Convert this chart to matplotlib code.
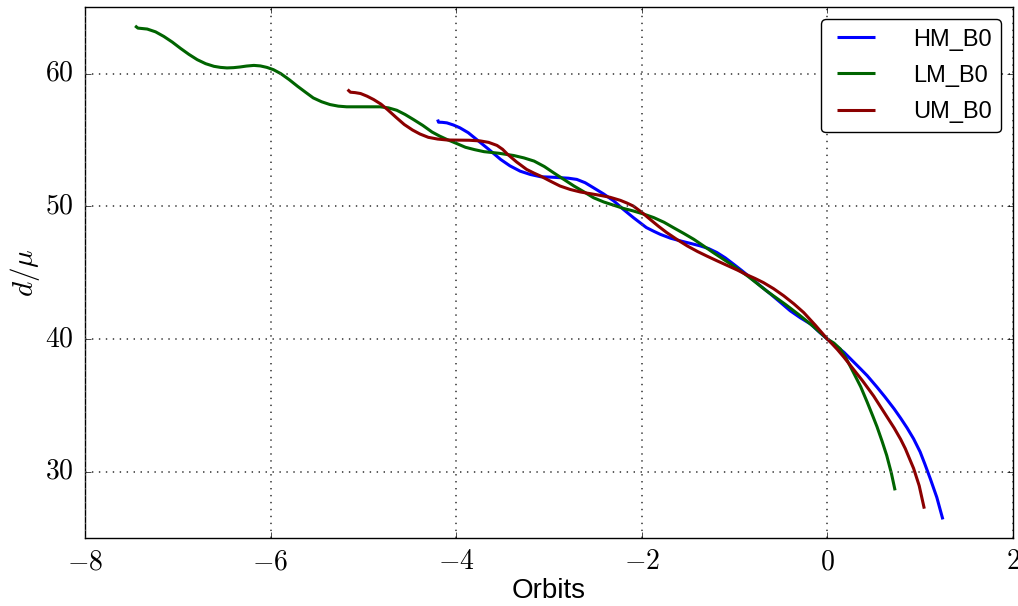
import matplotlib
matplotlib.use('Agg')
import matplotlib.pyplot as plt
from matplotlib.ticker import FuncFormatter

plt.style.use('classic')
plt.rcParams['mathtext.fontset'] = 'cm'
plt.rcParams['font.family'] = ['Liberation Sans', 'DejaVu Sans']

# orbit offsets and separation for each run
hm_orbits = [-4.20, -4.19, -4.15, -4.10, -4.03, -3.96, -3.87, -3.78, -3.65, -3.52,
             -3.42, -3.31, -3.20, -3.09, -2.98, -2.88, -2.79, -2.70, -2.61, -2.52,
             -2.41, -2.30, -2.20, -2.09, -1.95, -1.87, -1.80, -1.69, -1.58, -1.47,
             -1.37, -1.28, -1.19, -1.10, -1.01, -0.92, -0.83, -0.72, -0.61, -0.50,
             -0.40, -0.29, -0.18, -0.09, 0.0, 0.09, 0.18, 0.28, 0.36, 0.43,
             0.535, 0.62, 0.72, 0.79, 0.86, 0.93, 1.0, 1.05, 1.11, 1.18,
             1.245]
hm_d = [56.54, 56.34, 56.33, 56.29, 56.13, 55.92, 55.55, 55.04, 54.3, 53.53,
        53.05, 52.65, 52.4, 52.23, 52.2, 52.16, 52.12, 52.03, 51.78, 51.4,
        50.93, 50.40, 49.78, 49.15, 48.40, 48.12, 47.89, 47.6, 47.39, 47.2,
        47.02, 46.82, 46.52, 46.12, 45.64, 45.15, 44.64, 44.0, 43.38, 42.73,
        42.13, 41.6, 41.13, 40.55, 40.0, 39.5, 39.0, 38.3, 37.74, 37.24,
        36.38, 35.65, 34.74, 34.04, 33.3, 32.48, 31.5, 30.6, 29.47, 28.07,
        26.41]

lm_orbits = [-7.46, -7.43, -7.33, -7.24, -7.15, -7.06, -6.97, -6.88, -6.79, -6.70,
             -6.61, -6.54, -6.47, -6.40, -6.33, -6.26, -6.18, -6.11, -6.04, -5.97,
             -5.89, -5.80, -5.71, -5.62, -5.54, -5.45, -5.36, -5.27, -5.18, -5.0,
             -4.82, -4.73, -4.64, -4.55, -4.46, -4.36, -4.26, -4.18, -4.10, -4.0,
             -3.90, -3.80, -3.70, -3.54, -3.38, -3.27, -3.16, -3.05, -2.95, -2.84,
             -2.73, -2.62, -2.52, -2.41, -2.30, -2.20, -2.09, -1.98, -1.87, -1.76,
             -1.66, -1.55, -1.44, -1.33, -1.23, -1.03, -0.85, -0.65, -0.45, -0.30,
             -0.15, 0.0, 0.07, 0.14, 0.21, 0.28, 0.36, 0.43, 0.49, 0.535,
             0.59, 0.64, 0.69, 0.73]
lm_d = [63.6, 63.43, 63.36, 63.15, 62.8, 62.38, 61.9, 61.45, 61.05, 60.75,
        60.55, 60.47, 60.43, 60.45, 60.5, 60.57, 60.62, 60.58, 60.47, 60.3,
        60.0, 59.55, 59.05, 58.58, 58.17, 57.88, 57.67, 57.55, 57.5, 57.5,
        57.5, 57.42, 57.24, 56.92, 56.54, 56.1, 55.6, 55.3, 55.04, 54.75,
        54.45, 54.27, 54.12, 54.0, 53.83, 53.65, 53.41, 53.0, 52.53, 52.03,
        51.53, 51.08, 50.65, 50.33, 50.08, 49.85, 49.65, 49.42, 49.15, 48.8,
        48.40, 47.97, 47.52, 47.0, 46.52, 45.6, 44.7, 43.6, 42.6, 41.8,
        40.95, 40.0, 39.7, 39.25, 38.45, 37.5, 36.4, 35.24, 34.2, 33.4,
        32.3, 31.23, 29.9, 28.6]

um_orbits = [-5.17, -5.14, -5.09, -5.03, -4.96, -4.89, -4.81, -4.74, -4.65, -4.56,
             -4.47, -4.39, -4.30, -4.20, -4.10, -3.99, -3.86, -3.74, -3.65, -3.56,
             -3.50, -3.45, -3.35, -3.24, -3.16, -3.09, -2.98, -2.88, -2.77, -2.66,
             -2.55, -2.45, -2.34, -2.23, -2.16, -2.09, -2.00, -1.91, -1.82, -1.73,
             -1.62, -1.51, -1.40, -1.30, -1.19, -1.08, -0.97, -0.87, -0.78, -0.69,
             -0.58, -0.47, -0.36, -0.255, -0.13, 0.0, 0.05, 0.11, 0.18, 0.25,
             0.38, 0.50, 0.61, 0.72, 0.79, 0.84, 0.93, 0.99, 1.045]
um_d = [58.8, 58.6, 58.57, 58.5, 58.3, 58.05, 57.7, 57.29, 56.72, 56.17,
        55.75, 55.45, 55.2, 55.07, 55.0, 54.99, 54.98, 54.93, 54.82, 54.59,
        54.3, 53.95, 53.35, 52.78, 52.5, 52.28, 51.88, 51.53, 51.27, 51.08,
        50.95, 50.83, 50.68, 50.45, 50.25, 50.02, 49.55, 49.02, 48.5, 48.02,
        47.5, 47.02, 46.6, 46.26, 45.9, 45.55, 45.2, 44.85, 44.57, 44.26,
        43.8, 43.26, 42.65, 42.0, 41.05, 40.0, 39.65, 39.2, 38.62, 38.0,
        36.85, 35.7, 34.5, 33.3, 32.45, 31.75, 30.25, 28.95, 27.22]

fig = plt.figure(figsize=(10.18, 6.06), dpi=100, facecolor='white')
ax = fig.add_axes([0.0835, 0.112, 0.9115, 0.876])

kw = dict(lw=2.2, solid_joinstyle='round', solid_capstyle='butt')
ax.plot(hm_orbits, hm_d, color='#0000ff', label='HM_B0', **kw)
ax.plot(lm_orbits, lm_d, color='#006400', label='LM_B0', **kw)
ax.plot(um_orbits, um_d, color='#8b0000', label='UM_B0', **kw)

ax.set_xlim(-8, 2)
ax.set_ylim(25, 65)
ax.set_xticks([-8, -6, -4, -2, 0, 2])
ax.set_yticks([30, 40, 50, 60])
tex = FuncFormatter(lambda v, p: r'$%g$' % v)
ax.xaxis.set_major_formatter(tex)
ax.yaxis.set_major_formatter(tex)
ax.tick_params(labelsize=20, pad=8)
ax.grid(True, color='0.3', linestyle=(0, (1, 4)), lw=1.3)

ax.set_xlabel('Orbits', fontsize=20, labelpad=2)
ax.set_ylabel(r'$d/\mu$', fontsize=21, labelpad=2)

leg = ax.legend(loc='upper right', fontsize=17, frameon=True, fancybox=True,
                handlelength=2.2, labelspacing=0.6, borderaxespad=0.5,
                handletextpad=1.3)
leg.get_frame().set_edgecolor('black')

fig.savefig('out.png', dpi=100, facecolor='white')
